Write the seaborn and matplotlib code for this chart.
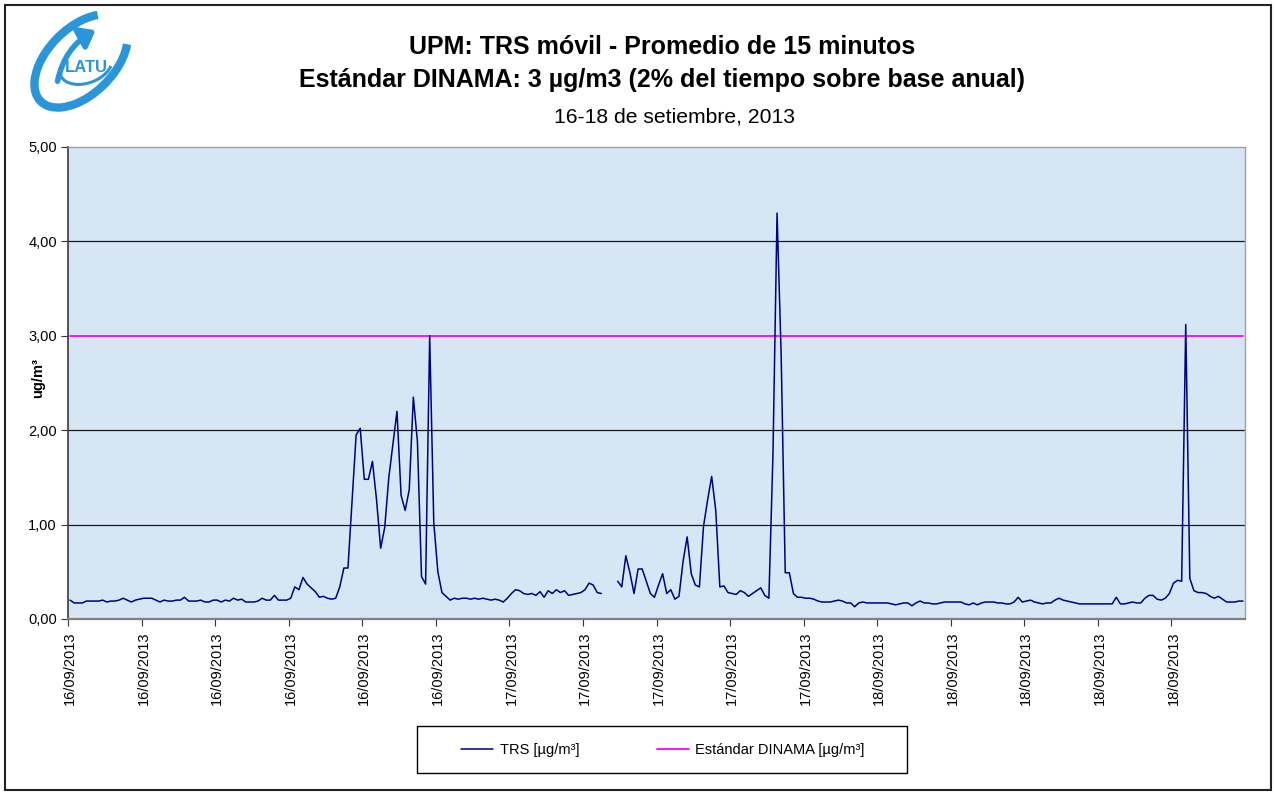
import numpy as np
import pandas as pd
import matplotlib
matplotlib.use('Agg')
import matplotlib.pyplot as plt
from matplotlib.patches import Rectangle, Arc, FancyArrowPatch
from matplotlib.lines import Line2D
import seaborn as sns

# datos (promedios de 15 minutos, 16/09 00:00 a 18/09 23:45)
inicio = '2013-09-16 00:00'
trs = [0.20, 0.17, 0.17, 0.17, 0.19, 0.19, 0.19, 0.19, 0.20, 0.18,
       0.19, 0.19, 0.20, 0.22, 0.20, 0.18, 0.20, 0.21, 0.22, 0.22,
       0.22, 0.20, 0.18, 0.20, 0.19, 0.19, 0.20, 0.20, 0.23, 0.19,
       0.19, 0.19, 0.20, 0.18, 0.18, 0.20, 0.20, 0.18, 0.20, 0.19,
       0.22, 0.20, 0.21, 0.18, 0.18, 0.18, 0.19, 0.22, 0.20, 0.20,
       0.25, 0.20, 0.20, 0.20, 0.22, 0.34, 0.31, 0.44, 0.37, 0.33,
       0.29, 0.23, 0.24, 0.22, 0.21, 0.22, 0.34, 0.54, 0.54, 1.25,
       1.95, 2.02, 1.48, 1.48, 1.67, 1.26, 0.75, 0.97, 1.50, 1.85,
       2.20, 1.31, 1.15, 1.37, 2.35, 1.88, 0.45, 0.37, 3.00, 1.02,
       0.50, 0.28, 0.24, 0.20, 0.22, 0.21, 0.22, 0.22, 0.21, 0.22,
       0.21, 0.22, 0.21, 0.20, 0.21, 0.20, 0.18, 0.22, 0.27, 0.31,
       0.30, 0.27, 0.26, 0.27, 0.25, 0.29, 0.23, 0.30, 0.27, 0.31,
       0.28, 0.30, 0.25, 0.26, 0.27, 0.28, 0.31, 0.38, 0.36, 0.28,
       0.27, np.nan, np.nan, np.nan, 0.40, 0.34, 0.67, 0.49, 0.27, 0.53,
       0.53, 0.40, 0.27, 0.23, 0.36, 0.48, 0.27, 0.31, 0.21, 0.24,
       0.61, 0.87, 0.48, 0.36, 0.34, 0.98, 1.26, 1.51, 1.15, 0.34,
       0.35, 0.28, 0.27, 0.26, 0.30, 0.28, 0.24, 0.27, 0.30, 0.33,
       0.25, 0.22, 1.75, 4.30, 2.80, 0.49, 0.49, 0.27, 0.23, 0.23,
       0.22, 0.22, 0.21, 0.19, 0.18, 0.18, 0.18, 0.19, 0.20, 0.19,
       0.17, 0.17, 0.13, 0.17, 0.18, 0.17, 0.17, 0.17, 0.17, 0.17,
       0.17, 0.16, 0.15, 0.16, 0.17, 0.17, 0.14, 0.17, 0.19, 0.17,
       0.17, 0.16, 0.16, 0.17, 0.18, 0.18, 0.18, 0.18, 0.18, 0.16,
       0.15, 0.17, 0.15, 0.17, 0.18, 0.18, 0.18, 0.17, 0.17, 0.16,
       0.16, 0.18, 0.23, 0.18, 0.19, 0.20, 0.18, 0.17, 0.16, 0.17,
       0.17, 0.20, 0.22, 0.20, 0.19, 0.18, 0.17, 0.16, 0.16, 0.16,
       0.16, 0.16, 0.16, 0.16, 0.16, 0.16, 0.23, 0.16, 0.16, 0.17,
       0.18, 0.17, 0.17, 0.22, 0.25, 0.25, 0.21, 0.20, 0.22, 0.27,
       0.38, 0.41, 0.40, 3.12, 0.43, 0.30, 0.28, 0.28, 0.27, 0.24,
       0.22, 0.24, 0.21, 0.18, 0.18, 0.18, 0.19, 0.19]
estandar = [3.0] * len(trs)
yticks = [0, 1, 2, 3, 4, 5]
paso_etiqueta = 18

fechas = pd.date_range(inicio, periods=len(trs), freq='15min')
df = pd.DataFrame({'idx': np.arange(len(trs)), 'TRS': trs, 'Estandar': estandar})
# tramos separados por el hueco de datos
df['tramo'] = df['TRS'].isna().cumsum()
datos = df.dropna(subset=['TRS'])

sns.set_theme(style='white')
plt.rcParams['font.family'] = ['Liberation Sans', 'DejaVu Sans']
for k in ['text.color', 'axes.labelcolor', 'xtick.color', 'ytick.color']:
    plt.rcParams[k] = 'black'

W, H = 1276, 795
fig = plt.figure(figsize=(W / 100, H / 100), dpi=100)
ax = fig.add_axes([68 / W, 1 - 619 / H, (1245 - 68) / W, (619 - 147) / H])
ax.set_facecolor('#d6e6f5')

for y in [1, 2, 4]:
    ax.axhline(y, color='#1a1a1a', lw=0.9, zorder=1)

sns.lineplot(data=df, x='idx', y='Estandar', color='#ff00ff', lw=1.3, ax=ax, zorder=3)
sns.lineplot(data=datos, x='idx', y='TRS', units='tramo', estimator=None,
             color='#000080', lw=1.1, ax=ax, zorder=4)

ax.set_xlim(-0.5, len(trs) - 0.5)
ax.set_ylim(0, 5)
ax.set_yticks(yticks)
ax.set_yticklabels([f'{v:.2f}'.replace('.', ',') for v in yticks], fontsize=10.5)
pos = list(range(0, len(trs), paso_etiqueta))
ax.set_xticks(pos)
ax.set_xticklabels([fechas[i].strftime('%d/%m/%Y') for i in pos], rotation=90, fontsize=10.5)
ax.set_xticks([p - 0.5 for p in pos], minor=True)
ax.tick_params(axis='x', which='major', length=0, pad=9)
ax.tick_params(axis='x', which='minor', length=5, width=0.8, color='#333333', direction='out', bottom=True)
ax.tick_params(axis='y', length=5, width=0.8, color='#333333', direction='out', left=True, pad=3)
ax.set_xlabel('')
ax.set_ylabel('ug/m³', fontsize=10.5, fontweight='bold')
ax.yaxis.set_label_coords(-0.0195, 0.51)
for s in ['top', 'right']:
    ax.spines[s].set_color('#a0a0a0')
    ax.spines[s].set_linewidth(1)
ax.spines['left'].set_color('#404040')
ax.spines['bottom'].set_color('#808080')
ax.spines['bottom'].set_linewidth(1.6)

# titulos
fig.text(662 / W, 1 - 47 / H, 'UPM: TRS móvil - Promedio de 15 minutos', ha='center', va='center',
         fontsize=18, fontweight='bold')
fig.text(662 / W, 1 - 80 / H, 'Estándar DINAMA: 3 µg/m3 (2% del tiempo sobre base anual)',
         ha='center', va='center', fontsize=18, fontweight='bold')
fig.text(675 / W, 1 - 117 / H, '16-18 de setiembre, 2013', ha='center', va='center', fontsize=15.2)

# leyenda
fig.patches.append(Rectangle((417 / W, 1 - 773 / H), 490 / W, 47 / H, transform=fig.transFigure,
                             fill=False, edgecolor='black', lw=1))
handles = [Line2D([], [], color='#000080', lw=1.1), Line2D([], [], color='#ff00ff', lw=1.3)]
fig.legend(handles, ['TRS [µg/m³]', 'Estándar DINAMA [µg/m³]'], loc='center',
           bbox_to_anchor=(663 / W, 1 - 750 / H), ncol=2, frameon=False, fontsize=10.5,
           handlelength=2.2, handletextpad=0.45, columnspacing=5.3)

# marco exterior
fig.patches.append(Rectangle((5 / W, 5 / H), (W - 10) / W, (H - 10) / H, transform=fig.transFigure,
                             fill=False, edgecolor='#222222', lw=1.5))

# logo LATU (coordenadas en pixeles de la imagen)
logo = fig.add_axes([18 / W, 1 - 118 / H, 125 / W, 110 / H])
logo.set_xlim(18, 143)
logo.set_ylim(118, 8)
logo.set_aspect('equal')
logo.axis('off')
azul = '#2a95d8'
logo.add_patch(Arc((81, 61), 114, 66, angle=-45, theta1=25, theta2=335, lw=6, color=azul, clip_on=False))
logo.add_patch(Arc((86, 66), 54, 34, angle=-20, theta1=20, theta2=200, lw=2.2, color=azul, clip_on=False))
logo.add_patch(FancyArrowPatch((57, 84), (98, 29), connectionstyle='arc3,rad=-0.25',
                               arrowstyle='-|>,head_length=9,head_width=7', color=azul, lw=4,
                               clip_on=False))
logo.text(86, 67, 'LATU', ha='center', va='center', fontsize=12, fontweight='bold',
          color=azul, fontstretch='condensed')

fig.savefig('out.png', dpi=100)
